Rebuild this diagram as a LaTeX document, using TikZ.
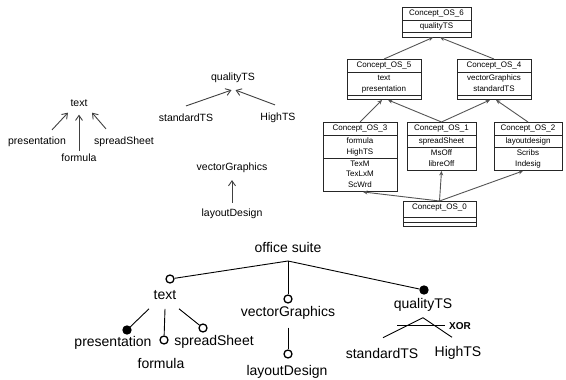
\documentclass[tikz,border=0pt]{standalone}
\usepackage{fontspec}
\setmainfont{Liberation Sans}
\usetikzlibrary{arrows.meta,positioning,shapes.multipart,calc}
\definecolor{latGray}{HTML}{555555}
\tikzset{
  lbl/.style={inner sep=0pt, font=\fontsize{10.5}{12}\selectfont},
  fmlbl/.style={inner sep=0pt, font=\fontsize{14}{16}\selectfont},
  concept/.style={draw=black!85, line width=0.9pt, rectangle split, rectangle split parts=3, inner xsep=2pt, inner ysep=0.5pt, minimum width=#1, font=\fontsize{8}{10.5}\selectfont},
  arrtree/.style={-{Straight Barb[length=5pt,width=7pt]}, line width=0.9pt, draw=black!75},
  arrlat/.style={-{Stealth[length=4.5pt,width=4pt]}, line width=0.9pt, draw=latGray},
  optf/.style={circle, draw, line width=1.3pt, fill=white, minimum size=8pt, inner sep=0pt},
  mandf/.style={optf, fill=black},
  fmline/.style={line width=0.9pt},
}
\newcommand{\crows}[1]{\begin{tabular}{@{}c@{}}#1\end{tabular}}
\newcommand{\cname}[1]{\crows{\rule[-3.5pt]{0pt}{10pt}#1}}
\newcommand{\cempty}{\rule{0pt}{2.5pt}}

\begin{document}
\begin{tikzpicture}[x=1pt,y=-1pt]
\useasboundingbox (0,0) rectangle (566,380);

% small trees, top left
\node[lbl] (ttext) at (79,103) {text};
\node[lbl] (tpres) at (37,142) {presentation};
\node[lbl] (tform) at (79,158) {formula};
\node[lbl] (tspread) at (124,142) {spreadSheet};
\draw[arrtree] ([xshift=15pt,yshift=7pt]tpres.north) -- ([xshift=-11pt,yshift=-6pt]ttext.south);
\draw[arrtree] ([yshift=3pt]tform.north) -- ([yshift=-8pt]ttext.south);
\draw[arrtree] ([xshift=-18pt,yshift=8pt]tspread.north) -- ([xshift=13pt,yshift=-6pt]ttext.south);

\node[lbl] (mqual) at (233,78) {qualityTS};
\node[lbl] (mstd) at (186,118) {standardTS};
\node[lbl] (mhigh) at (278,118) {HighTS};
\draw[arrtree] ([yshift=8pt]mstd.north) -- ([xshift=-1.5pt,yshift=-7pt]mqual.south);
\draw[arrtree] ([xshift=-3pt,yshift=8pt]mhigh.north) -- ([xshift=2.5pt,yshift=-7pt]mqual.south);

\node[lbl] (mvec) at (232,168) {vectorGraphics};
\node[lbl] (mlay) at (232,214) {layoutDesign};
\draw[arrtree] ([yshift=6pt]mlay.north) -- ([yshift=-7pt]mvec.south);

% concept lattice
\node[concept=69pt, anchor=north] (os6) at (436.5,7) {\cname{Concept\_OS\_6}\nodepart{two}\crows{qualityTS}\nodepart{three}\cempty};
\node[concept=74pt, anchor=north] (os5) at (384,59) {\cname{Concept\_OS\_5}\nodepart{two}\crows{text\\presentation}\nodepart{three}\cempty};
\node[concept=74pt, anchor=north] (os4) at (494,59) {\cname{Concept\_OS\_4}\nodepart{two}\crows{vectorGraphics\\standardTS}\nodepart{three}\cempty};
\node[concept=74pt, anchor=north] (os3) at (360,122) {\cname{Concept\_OS\_3}\nodepart{two}\crows{formula\\HighTS}\nodepart{three}\crows{TexM\\TexLxM\\ScWrd}};
\node[concept=69pt, anchor=north] (os1) at (441.5,122) {\cname{Concept\_OS\_1}\nodepart{two}\crows{spreadSheet}\nodepart{three}\crows{MsOff\\libreOff}};
\node[concept=68pt, anchor=north] (os2) at (528,122) {\cname{Concept\_OS\_2}\nodepart{two}\crows{layoutdesign}\nodepart{three}\crows{Scribs\\Indesig}};
\node[concept=73pt, anchor=north] (os0) at (439.5,201) {\crows{\rule[-7pt]{0pt}{13pt}Concept\_OS\_0}\nodepart{two}\cempty\nodepart{three}\cempty};

\draw[arrlat] (os5.north) -- ([xshift=-3.5pt]os6.south);
\draw[arrlat] (os4.north) -- ([xshift=3.5pt]os6.south);
\draw[arrlat] (os3.north) -- ([xshift=-2pt]os5.south);
\draw[arrlat] (os1.north) -- ([xshift=4pt]os5.south);
\draw[arrlat] (os1.north) -- ([xshift=-4pt]os4.south);
\draw[arrlat] (os2.north) -- ([xshift=2pt]os4.south);
\draw[arrlat] (os0.north) -- ([xshift=3pt]os3.south);
\draw[arrlat] (os0.north) -- (os1.south);
\draw[arrlat] (os0.north) -- ([xshift=-5pt]os2.south);

% feature model
\node[fmlbl] (root) at (288,247) {office suite};
\coordinate (rootjoin) at (288,261);

\node[optf] (ctext) at (170,279) {};
\node[optf] (cvec) at (288,299) {};
\node[mandf] (cqual) at (424,290) {};
\node[mandf] (cpres) at (127,330) {};
\node[optf] (cform) at (164,340) {};
\node[optf] (cspread) at (203,328) {};
\node[optf] (clay) at (288,354) {};

\node[fmlbl] (ltext) at (165,295) {text};
\node[fmlbl] (lvec) at (288,313) {vectorGraphics};
\node[fmlbl] (lqual) at (423,305) {qualityTS};
\node[fmlbl] (lpres) at (113,343) {presentation};
\node[fmlbl] (lform) at (161,363) {formula};
\node[fmlbl] (lspread) at (214,342) {spreadSheet};
\node[fmlbl] (llay) at (287,372) {layoutDesign};
\node[fmlbl] (lstd) at (382,353) {standardTS};
\node[fmlbl] (lhigh) at (458,353) {HighTS};

\draw[fmline] (rootjoin) -- (ctext);
\draw[fmline] (rootjoin) -- (cvec);
\draw[fmline] (rootjoin) -- (cqual);
\draw[fmline] ([xshift=-16pt,yshift=-9pt]ltext.south) -- (cpres);
\draw[fmline] ([yshift=-9pt]ltext.south) -- (cform);
\draw[fmline] ([xshift=14pt,yshift=-9pt]ltext.south) -- (cspread);
\draw[fmline] ([yshift=-8pt]lvec.south) -- (clay);

% xor group
\coordinate (xorapex) at ([yshift=-6pt]lqual.south);
\draw[fmline] (xorapex) -- ([xshift=1pt,yshift=10pt]lstd.north);
\draw[fmline] (xorapex) -- ([xshift=-6pt,yshift=9pt]lhigh.north);
\coordinate (xorL) at ($(xorapex)+(-26,8)$);
\coordinate (xorR) at ($(xorapex)+(22,8)$);
\draw[fmline] (xorL) -- (xorR);
\node[inner sep=0pt, font=\bfseries\fontsize{10}{12}\selectfont, right=4pt of xorR] (xor) {XOR};
\end{tikzpicture}
\end{document}
